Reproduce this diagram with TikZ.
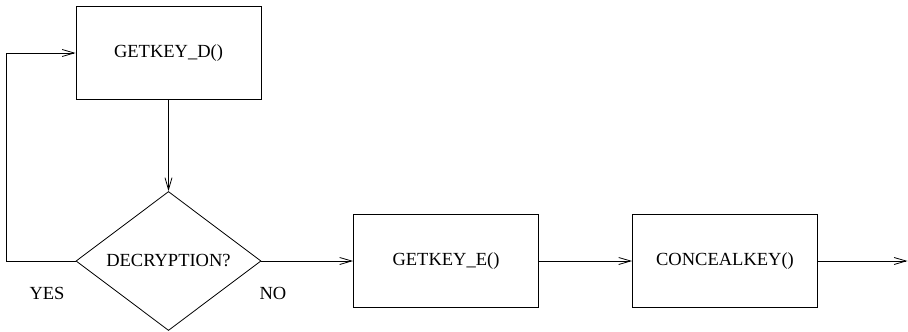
\documentclass[tikz,border=0pt]{standalone}
\usepackage{fontspec}
\setmainfont{Liberation Serif}
\usetikzlibrary{shapes.geometric,arrows.meta}
\tikzset{
  fnbox/.style={draw,rectangle,inner sep=0pt,minimum width=185pt,minimum height=92.5pt,font=\fontsize{18.5}{22}\selectfont},
  askbox/.style={draw,diamond,inner sep=0pt,minimum width=185pt,minimum height=139pt,font=\fontsize{18.5}{22}\selectfont},
  lbl/.style={font=\fontsize{18.5}{22}\selectfont},
  flow/.style={line width=0.8pt,-{Straight Barb[length=12pt,width=7pt,line width=0.8pt]}}
}
\begin{document}
\begin{tikzpicture}[x=1pt,y=-1pt,line width=0.8pt]
\pgfmathsetmacro{\brow}{261}
\useasboundingbox(0,0)rectangle(908,332);
\node[fnbox](getkeyd)at(168.5,53){GETKEY\_D()};
\node[askbox](decrypt)at(168.5,\brow){DECRYPTION?};
\node[fnbox](getkeye)at(446,\brow){GETKEY\_E()};
\node[fnbox](conceal)at(725,\brow){CONCEALKEY()};
\coordinate(out)at(907.5,\brow);
\node[lbl](yes)at(47,293){YES};
\node[lbl](no)at(273,293){NO};
\draw[flow](getkeyd)--(decrypt);
\draw[flow](decrypt.west)-|(6,53)--(getkeyd.west);
\draw[flow](decrypt)--(getkeye);
\draw[flow](getkeye)--(conceal);
\draw[flow](conceal)--(out);
\end{tikzpicture}
\end{document}
